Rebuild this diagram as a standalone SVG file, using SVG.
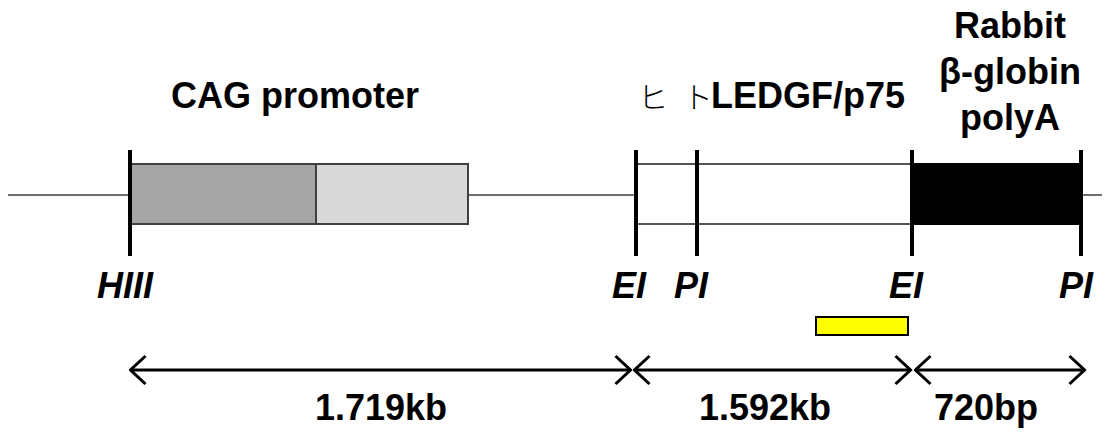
<svg xmlns="http://www.w3.org/2000/svg" width="1107" height="433" viewBox="0 0 1107 433">
<style>
.t{font-family:"Liberation Sans",Arial,sans-serif;font-weight:bold;font-size:36px;fill:#000}
.s{font-family:"Liberation Sans",Arial,sans-serif;font-weight:bold;font-style:italic;font-size:36px;fill:#000}
.tick{stroke:#000;stroke-width:4}
.arr{stroke:#000;stroke-width:3;fill:none}
</style>
<defs>
<marker id="ah" viewBox="0 0 20 32" refX="18.5" refY="16" markerWidth="20" markerHeight="32" markerUnits="userSpaceOnUse" orient="auto-start-reverse">
<path d="M3,2 L18,16 L3,30" fill="none" stroke="#000" stroke-width="3"/>
</marker>
</defs>
<g id="backbone"><line x1="8" y1="195" x2="1102" y2="195" stroke="#6e6e6e" stroke-width="2"/></g>
<g id="cag">
<rect x="131" y="164" width="185" height="60" fill="#a6a6a6" stroke="#404040" stroke-width="2"/>
<rect x="316" y="164" width="152" height="60" fill="#d9d9d9" stroke="#404040" stroke-width="2"/>
<text class="t" x="295" y="108" text-anchor="middle">CAG promoter</text>
</g>
<g id="ledgf">
<rect x="636" y="164" width="276" height="60" fill="#fff" stroke="#555" stroke-width="2"/>
<text x="638" y="108" style="font-family:'Noto Sans CJK JP',sans-serif;font-size:30px;font-weight:300" xml:space="preserve">ヒ<tspan dx="8"> ト</tspan></text>
<text class="t" x="905" y="108" text-anchor="end">LEDGF/p75</text>
</g>
<g id="polya">
<rect x="912" y="164" width="169" height="60" fill="#000" stroke="#000" stroke-width="2"/>
<text class="t" x="1010" y="38" text-anchor="middle">Rabbit</text>
<text class="t" x="1010" y="84" text-anchor="middle">β-globin</text>
<text class="t" x="1010" y="130" text-anchor="middle">polyA</text>
</g>
<g id="sites">
<line class="tick" x1="130" y1="150" x2="130" y2="256"/>
<line class="tick" x1="636" y1="150" x2="636" y2="256"/>
<line class="tick" x1="697" y1="150" x2="697" y2="256"/>
<line class="tick" x1="912" y1="150" x2="912" y2="256"/>
<line class="tick" x1="1081" y1="150" x2="1081" y2="256"/>
<text class="s" x="125" y="298" text-anchor="middle">HIII</text>
<text class="s" x="629" y="298" text-anchor="middle">EI</text>
<text class="s" x="691" y="298" text-anchor="middle">PI</text>
<text class="s" x="906" y="298" text-anchor="middle">EI</text>
<text class="s" x="1076" y="298" text-anchor="middle">PI</text>
</g>
<g id="probe"><rect x="816" y="317" width="92" height="18" fill="#ffff00" stroke="#000" stroke-width="2"/></g>
<g id="connectors">
<line class="arr" x1="130" y1="370" x2="631" y2="370" marker-start="url(#ah)" marker-end="url(#ah)"/>
<line class="arr" x1="634" y1="370" x2="911" y2="370" marker-start="url(#ah)" marker-end="url(#ah)"/>
<line class="arr" x1="915" y1="370" x2="1085" y2="370" marker-start="url(#ah)" marker-end="url(#ah)"/>
</g>
<g id="labels">
<text class="t" x="381" y="420" text-anchor="middle">1.719kb</text>
<text class="t" x="765" y="420" text-anchor="middle">1.592kb</text>
<text class="t" x="986" y="420" text-anchor="middle">720bp</text>
</g>
</svg>
